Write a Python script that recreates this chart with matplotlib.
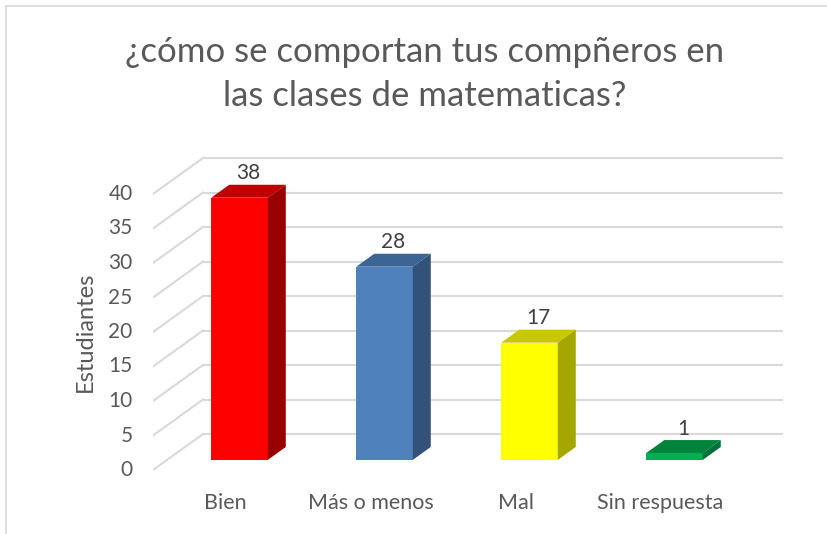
import matplotlib.pyplot as plt
from matplotlib.patches import Polygon
from matplotlib.lines import Line2D

categorias = ["Bien", "Más o menos", "Mal", "Sin respuesta"]
estudiantes = [38, 28, 17, 1]
ticks = [0, 5, 10, 15, 20, 25, 30, 35, 40]
titulo = "¿cómo se comportan tus compñeros en\nlas clases de matematicas?"

frente = ["#FF0000", "#4F81BD", "#FFFF00", "#00B050"]
tapa = ["#C00000", "#3C6494", "#C8C800", "#00843C"]
lado = ["#990000", "#32527A", "#A6A600", "#00703A"]

plt.rcParams['font.family'] = ['Lato', 'DejaVu Sans']
gris = "#595959"

W, H = 828, 534
fig = plt.figure(figsize=(W / 100, H / 100), dpi=100)

# borde del grafico
fig.add_artist(Line2D([6 / W, 1], [1 - 6 / H, 1 - 6 / H], color="#d9d9d9", lw=1.2))
fig.add_artist(Line2D([6 / W, 6 / W], [0, 1 - 6 / H], color="#d9d9d9", lw=1.2))

# pixeles del plano frontal / fondo
x0, x1, y0, y1 = 153, 783, 470, 157
ax = fig.add_axes([x0 / W, 1 - y0 / H, (x1 - x0) / W, (y0 - y1) / H])

px_u = 145.0           # pixeles por categoria
py_u = 6.9             # pixeles por unidad
dx = 50 / px_u         # profundidad en x
dy = 36 / py_u         # profundidad en y
ax.set_xlim(-0.5, -0.5 + (x1 - x0) / px_u)
ax.set_ylim(0, (y0 - y1) / py_u)
ax.axis("off")

xmin, xmax = -0.5, 3.5
for t in ticks:
    ax.plot([xmin + dx, xmax + dx], [t + dy, t + dy], color="#d9d9d9", lw=1.5, zorder=1)
    ax.plot([xmin, xmin + dx], [t, t + dy], color="#d9d9d9", lw=1.5, zorder=1)
    ax.text(xmin - 0.14, t, str(t), ha="right", va="center", fontsize=15, color=gris,
            clip_on=False)

f0, f1 = 0.28, 0.64
ancho = 0.39
xs = [i + f0 * dx for i in range(len(categorias))]
ax.bar(xs, estudiantes, width=ancho, bottom=f0 * dy, color=frente, zorder=3)
for i, v in enumerate(estudiantes):
    l = xs[i] - ancho / 2
    r = xs[i] + ancho / 2
    b = f0 * dy
    t = v + f0 * dy
    ddx = (f1 - f0) * dx
    ddy = (f1 - f0) * dy
    ax.add_patch(Polygon([(l, t), (r, t), (r + ddx, t + ddy), (l + ddx, t + ddy)],
                         closed=True, facecolor=tapa[i], edgecolor="none", zorder=3))
    ax.add_patch(Polygon([(r, b), (r + ddx, b + ddy), (r + ddx, t + ddy), (r, t)],
                         closed=True, facecolor=lado[i], edgecolor="none", zorder=3))
    ax.text(xs[i] + ddx / 2, t + ddy + 0.2, str(v), ha="center", va="bottom",
            fontsize=15, color="#404040", zorder=4, clip_on=False)
    ax.text(i, -4.8, categorias[i], ha="center", va="center", fontsize=15.5,
            color=gris, clip_on=False)

fig.text(85 / W, 1 - 332 / H, "Estudiantes", rotation=90, ha="center", va="center",
         fontsize=17, color=gris)
fig.text(425 / W, 1 - 74 / H, titulo, ha="center", va="center", fontsize=25,
         color=gris, linespacing=1.5)

fig.savefig("out.png", dpi=100)
